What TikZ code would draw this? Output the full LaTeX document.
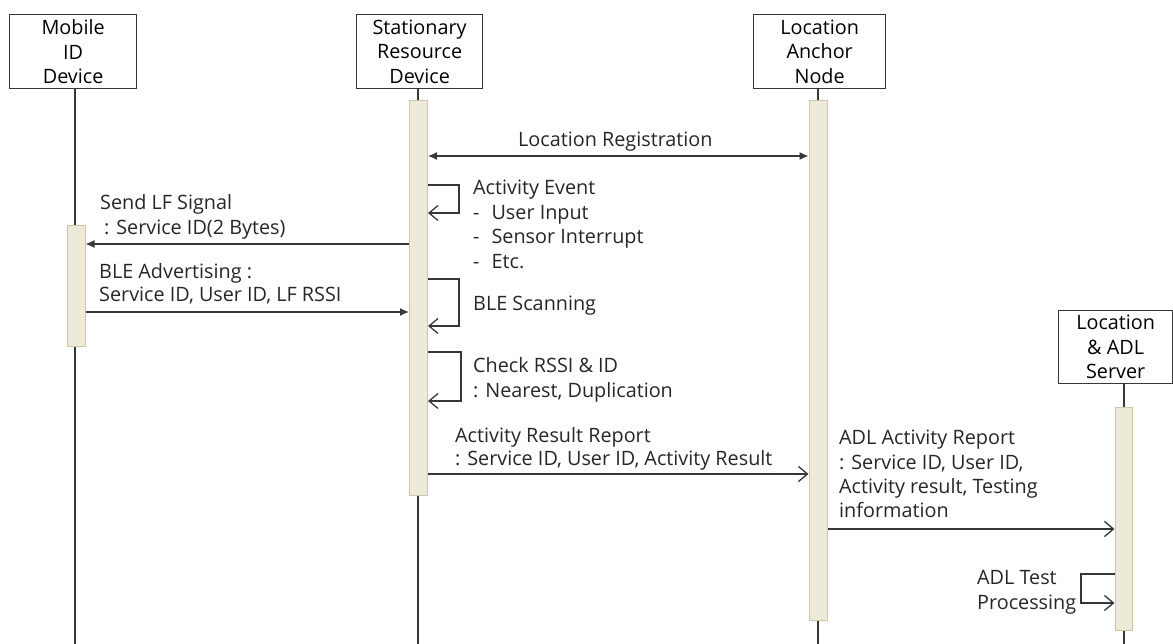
\documentclass[tikz,border=0pt]{standalone}
\usepackage{fontspec}
\setmainfont{Open Sans}
\usetikzlibrary{arrows.meta}
\definecolor{barfill}{RGB}{237,234,218}
\definecolor{barline}{RGB}{205,199,165}
\definecolor{ink}{RGB}{55,55,55}
\begin{document}
\begin{tikzpicture}[x=1pt,y=-1pt,
  font=\fontsize{19.8}{24.5}\selectfont,
  head/.style={draw=ink, line width=1.3pt, fill=white, align=center, inner sep=0pt, anchor=north west},
  life/.style={draw=ink, line width=1.3pt},
  bar/.style={draw=barline, fill=barfill, line width=1pt, inner sep=0pt, anchor=north, minimum width=18pt},
  msg/.style={draw=ink, line width=1.3pt},
  fillhead/.style={-{Latex[length=9pt,width=8pt]}},
  bothfill/.style={{Latex[length=9pt,width=8pt]}-{Latex[length=9pt,width=8pt]}},
  openhead/.style={-{Straight Barb[length=9pt,width=15pt,line width=1.3pt]}},
  lbl/.style={anchor=base west, inner sep=0pt, text=black!85}
]
\useasboundingbox (0,0) rectangle (1173,644);

% headers
\node[head, minimum width=127pt, minimum height=74pt] (mob) at (9,14) {Mobile\\ID\\Device};
\node[head, minimum width=126pt, minimum height=74pt] (sta) at (356,14) {Stationary\\Resource\\Device};
\node[head, minimum width=132pt, minimum height=74pt] (anc) at (753,14) {Location\\Anchor\\Node};
\node[head, minimum width=114pt, minimum height=73pt] (srv) at (1058,310) {Location\\\& ADL\\Server};

% lifelines
\coordinate (mobEnd) at (75,644);
\coordinate (staEnd) at (418,644);
\coordinate (ancEnd) at (818,644);
\coordinate (srvEnd) at (1124,644);
\draw[life] (mob.south -| mobEnd) -- (mobEnd);
\draw[life] (sta.south -| staEnd) -- (staEnd);
\draw[life] (anc.south -| ancEnd) -- (ancEnd);
\draw[life] (srv.south -| srvEnd) -- (srvEnd);

% activation bars
\node[bar, minimum height=121pt] (mb) at (76,225) {};
\node[bar, minimum height=395pt] (sb) at (418.5,100) {};
\node[bar, minimum height=520pt] (ab) at (818,100) {};
\node[bar, minimum height=223pt, minimum width=17pt] (vb) at (1123.5,407) {};

% Location Registration
\draw[msg, bothfill] (sb.east |- 0,156) -- (ab.west |- 0,156);
\node[lbl] (lr) at (518,147) {Location Registration};

% Activity Event loop
\draw[msg, openhead] (sb.east |- 0,185) -- (459,185) -- (459,213) -- (sb.east |- 0,213);
\node[lbl] (ae1) at (473,195) {Activity Event};
\node[lbl] (ae2) at (473,220) {-\hspace{12pt}User Input};
\node[lbl] (ae3) at (473,244) {-\hspace{12pt}Sensor Interrupt};
\node[lbl] (ae4) at (473,269) {-\hspace{12pt}Etc.};

% Send LF Signal
\draw[msg, fillhead] (sb.west |- 0,244) -- (mb.east |- 0,244);
\node[lbl] (lf1) at (100,210) {Send LF Signal};
\node[lbl] (lf2) at (104,235) {: Service ID(2 Bytes)};

% BLE Advertising
\draw[msg, fillhead] (mb.east |- 0,312) -- (sb.west |- 0,312);
\node[lbl] (ba1) at (99,279) {BLE Advertising :};
\node[lbl] (ba2) at (99,302) {Service ID, User ID, LF RSSI};

% BLE Scanning loop
\draw[msg, openhead] (sb.east |- 0,279) -- (459,279) -- (459,326) -- (sb.east |- 0,326);
\node[lbl] (bs) at (473,311) {BLE Scanning};

% Check RSSI loop
\draw[msg, openhead] (sb.east |- 0,352) -- (461,352) -- (461,401) -- (sb.east |- 0,401);
\node[lbl] (cr1) at (473,373) {Check RSSI \& ID};
\node[lbl] (cr2) at (473,397) {: Nearest, Duplication};

% Activity Result Report
\draw[msg, openhead] (sb.east |- 0,474) -- (ab.west |- 0,474);
\node[lbl] (ar1) at (455,442) {Activity Result Report};
\node[lbl] (ar2) at (455,465) {: Service ID, User ID, Activity Result};

% ADL Activity Report
\draw[msg, openhead] (ab.east |- 0,529) -- (vb.west |- 0,529);
\node[lbl] (ad1) at (839,444) {ADL Activity Report};
\node[lbl] (ad2) at (839,469) {: Service ID, User ID,};
\node[lbl] (ad3) at (839,493) {Activity result, Testing};
\node[lbl] (ad4) at (839,517) {information};

% ADL Test Processing loop
\draw[msg, openhead] (vb.west |- 0,574) -- (1081,574) -- (1081,603) -- (vb.west |- 0,603);
\node[lbl] (tp1) at (977,584) {ADL Test};
\node[lbl] (tp2) at (977,609) {Processing};
\end{tikzpicture}
\end{document}
